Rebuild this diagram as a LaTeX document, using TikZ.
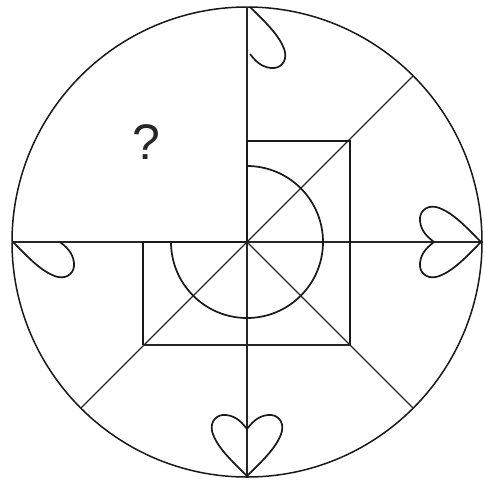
\documentclass[tikz,border=0pt]{standalone}
\usepackage{fontspec}
\setmainfont{Liberation Sans}
\tikzset{
  thinline/.style={line width=1.1pt, black!85},
  thickline/.style={line width=1.7pt, black!90},
  rimline/.style={line width=1.5pt, black!90},
  heartline/.style={line width=1.7pt, black!90, line join=round},
}
\newcommand{\halfheart}{%
  (0,0) .. controls (13,13) and (31,29) .. (35,45)
        .. controls (37,55) and (30,62) .. (21,61)
        .. controls (10,60) and (4,52) .. (0,47)}
\begin{document}
\begin{tikzpicture}[x=1pt,y=-1pt]
\useasboundingbox (0,0) rectangle (485,483);
\coordinate (C) at (247,242);
% outer circle
\draw[rimline] (C) circle[radius=235];
% axes
\draw[thinline] (247,7) -- (247,477);
\draw[thinline] (12,242) -- (482,242);
% diagonals
\draw[thinline] (C) -- ++(-45:235);
\draw[thinline] (C) -- ++(45:235);
\draw[thinline] (C) -- ++(135:235);
% L-shaped frame
\draw[thickline] (247,242) -- (247,141) -- (350,141) -- (350,345);
\draw[thinline] (350,345) -- (143,345);
\draw[thickline] (143,345) -- (143,242) -- (247,242);
% three-quarter arc
\draw[thickline] (247,166) arc[start angle=-90, end angle=180, radius=76];
% hearts
% bottom (full)
\begin{scope}[shift={(247,476)}, y=1pt]
  \draw[heartline] \halfheart;
  \draw[heartline, xscale=-1] \halfheart;
\end{scope}
% right (full)
\begin{scope}[shift={(481,242)}, rotate=90, y=1pt]
  \draw[heartline] \halfheart;
  \draw[heartline, xscale=-1] \halfheart;
\end{scope}
% top (right half)
\begin{scope}[shift={(250,7)}, rotate=180, xscale=-1, y=1pt]
  \draw[heartline] \halfheart;
\end{scope}
% left (lower half)
\begin{scope}[shift={(13,242)}, rotate=-90, y=1pt]
  \draw[heartline] \halfheart;
\end{scope}
\node[font=\fontsize{50}{50}\selectfont, text=black!85] (q) at (146,142) {?};
\end{tikzpicture}
\end{document}
